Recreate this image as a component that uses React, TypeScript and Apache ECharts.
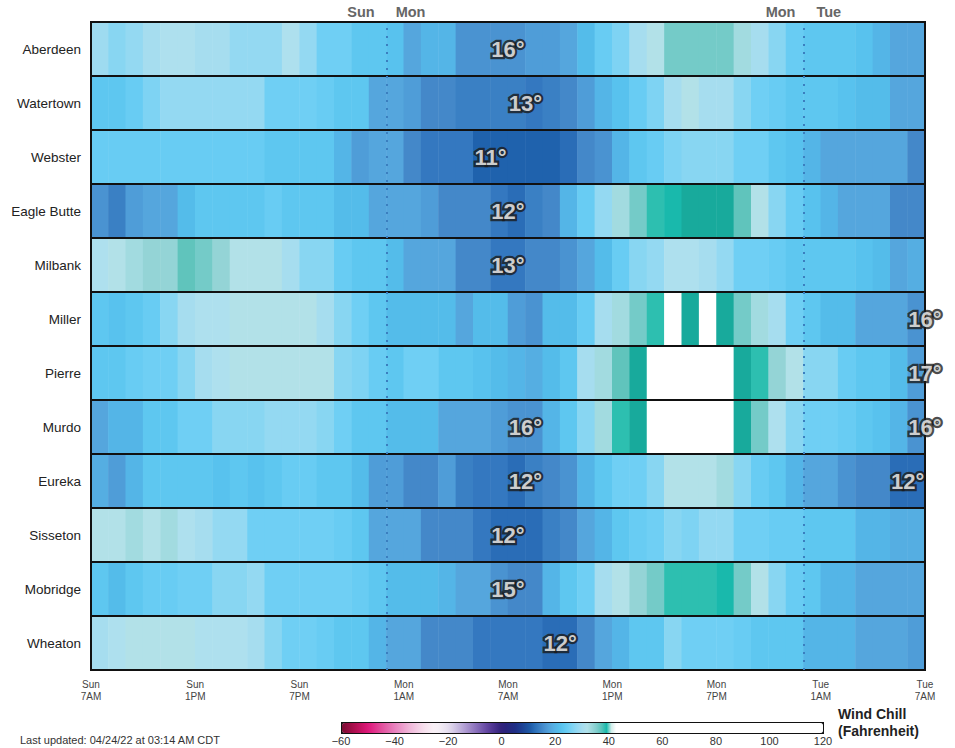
import React, { useEffect, useRef } from 'react';
import * as echarts from 'echarts';

const stations = ['Aberdeen', 'Watertown', 'Webster', 'Eagle Butte', 'Milbank', 'Miller', 'Pierre', 'Murdo', 'Eureka', 'Sisseton', 'Mobridge', 'Wheaton'];

const hourCategories = [
  'Sun 7AM', 'Sun 8AM', 'Sun 9AM', 'Sun 10AM', 'Sun 11AM', 'Sun 12PM', 'Sun 1PM', 'Sun 2PM', 'Sun 3PM', 'Sun 4PM', 'Sun 5PM', 'Sun 6PM',
  'Sun 7PM', 'Sun 8PM', 'Sun 9PM', 'Sun 10PM', 'Sun 11PM', 'Mon 12AM', 'Mon 1AM', 'Mon 2AM', 'Mon 3AM', 'Mon 4AM', 'Mon 5AM', 'Mon 6AM',
  'Mon 7AM', 'Mon 8AM', 'Mon 9AM', 'Mon 10AM', 'Mon 11AM', 'Mon 12PM', 'Mon 1PM', 'Mon 2PM', 'Mon 3PM', 'Mon 4PM', 'Mon 5PM', 'Mon 6PM',
  'Mon 7PM', 'Mon 8PM', 'Mon 9PM', 'Mon 10PM', 'Mon 11PM', 'Tue 12AM', 'Tue 1AM', 'Tue 2AM', 'Tue 3AM', 'Tue 4AM', 'Tue 5AM', 'Tue 6AM',
];

const tickLabels = ['Sun\n7AM', 'Sun\n1PM', 'Sun\n7PM', 'Mon\n1AM', 'Mon\n7AM', 'Mon\n1PM', 'Mon\n7PM', 'Tue\n1AM', 'Tue\n7AM'];

// Wind chill (°F), hourly from Sun 7AM
const aberdeen = [29, 27, 28, 30, 31, 31, 30, 30, 28, 28, 28, 31, 28, 25, 25, 23, 23, 22, 18, 20, 20, 16, 16, 16, 16, 17, 17, 18, 21, 24, 26, 30, 32, 36, 36, 36, 36, 33, 30, 27, 24, 23, 23, 23, 22, 20, 18, 18];
const watertown = [23, 23, 24, 26, 28, 28, 28, 28, 28, 28, 25, 25, 25, 24, 23, 23, 18, 18, 17, 15, 15, 14, 14, 14, 14, 13, 14, 15, 17, 20, 22, 24, 26, 30, 32, 30, 30, 27, 25, 24, 23, 23, 23, 22, 21, 21, 18, 18];
const webster = [24, 24, 24, 24, 24, 24, 24, 24, 24, 24, 23, 23, 23, 23, 20, 17, 18, 18, 15, 13, 13, 13, 11, 11, 11, 11, 11, 12, 15, 16, 20, 23, 24, 26, 27, 27, 27, 25, 25, 23, 22, 20, 18, 18, 18, 18, 18, 15];
const eagleButte = [16, 14, 17, 18, 18, 21, 23, 23, 23, 23, 24, 23, 23, 23, 21, 21, 18, 18, 18, 17, 15, 15, 15, 13, 12, 14, 15, 20, 24, 28, 33, 36, 38, 39, 40, 40, 40, 37, 32, 27, 24, 22, 20, 18, 18, 18, 15, 15];
const milbank = [31, 32, 33, 34, 34, 37, 36, 34, 32, 32, 32, 30, 27, 27, 24, 23, 23, 21, 18, 18, 18, 15, 15, 13, 13, 15, 15, 16, 18, 21, 24, 27, 28, 31, 31, 30, 28, 25, 25, 24, 23, 23, 23, 23, 22, 21, 18, 19];
const miller = [23, 22, 23, 24, 27, 30, 31, 31, 32, 32, 32, 32, 32, 30, 27, 25, 23, 21, 21, 21, 21, 18, 21, 21, 17, 16, 21, 21, 24, 30, 33, 36, 38, 43, 40, 43, 40, 36, 33, 30, 25, 23, 21, 21, 18, 18, 18, 16];
const pierre = [23, 23, 24, 25, 25, 27, 30, 31, 32, 32, 32, 32, 32, 32, 27, 26, 24, 23, 25, 25, 23, 23, 22, 21, 20, 19, 21, 23, 30, 33, 37, 40, 45, 46, 46, 45, 44, 40, 38, 34, 32, 27, 27, 24, 23, 23, 21, 17];
const murdo = [18, 20, 20, 23, 23, 25, 25, 27, 27, 27, 28, 28, 28, 27, 25, 23, 23, 21, 21, 21, 18, 18, 18, 17, 16, 16, 20, 23, 27, 33, 38, 40, 45, 46, 46, 45, 44, 40, 36, 31, 27, 25, 25, 24, 23, 22, 20, 16];
const eureka = [19, 17, 20, 23, 23, 23, 23, 22, 23, 22, 23, 24, 24, 23, 23, 21, 17, 17, 15, 15, 17, 14, 13, 13, 12, 14, 15, 16, 20, 23, 25, 25, 27, 32, 32, 32, 33, 27, 24, 23, 20, 18, 18, 16, 15, 15, 12, 12];
const sisseton = [32, 32, 33, 32, 33, 31, 30, 28, 28, 25, 25, 25, 25, 25, 24, 23, 18, 18, 18, 15, 15, 15, 13, 12, 12, 12, 14, 15, 18, 20, 23, 24, 25, 27, 26, 28, 28, 25, 25, 24, 24, 23, 23, 23, 20, 20, 19, 19];
const mobridge = [23, 21, 23, 24, 24, 25, 25, 27, 27, 28, 25, 25, 25, 25, 25, 24, 23, 21, 21, 21, 20, 18, 18, 16, 15, 15, 20, 23, 25, 30, 32, 34, 36, 38, 38, 38, 39, 36, 32, 27, 24, 23, 20, 20, 18, 18, 18, 18];
const wheaton = [30, 31, 32, 32, 32, 32, 31, 31, 31, 30, 27, 25, 25, 24, 23, 23, 20, 18, 18, 15, 15, 15, 13, 13, 13, 13, 12, 12, 15, 18, 20, 23, 23, 27, 25, 25, 25, 24, 23, 23, 23, 20, 20, 20, 18, 18, 18, 17];

const rows = [aberdeen, watertown, webster, eagleButte, milbank, miller, pierre, murdo, eureka, sisseton, mobridge, wheaton];

// Minimum wind chill annotations: station, hour position (from Sun 7AM), text
const minLabelStations = ['Aberdeen', 'Watertown', 'Webster', 'Eagle Butte', 'Milbank', 'Miller', 'Pierre', 'Murdo', 'Murdo', 'Eureka', 'Eureka', 'Sisseton', 'Mobridge', 'Wheaton'];
const minLabelHours = [24, 25, 23, 24, 24, 48, 48, 25, 48, 25, 47, 24, 24, 27];
const minLabelTexts = ['16°', '13°', '11°', '12°', '13°', '16°', '17°', '16°', '16°', '12°', '12°', '12°', '15°', '12°'];

const dayBoundaryHours = [17, 41];
const dayBoundaryNames = ['Sun|Mon', 'Mon|Tue'];

// colour scale stops (value, colour)
const colorStops: [number, string][] = [
  [-60, '#7a0c32'], [-55, '#b10f50'], [-50, '#e0187c'], [-45, '#e2529e'], [-40, '#e884bf'], [-35, '#f0b4d8'],
  [-30, '#f6dcec'], [-25, '#faf4f8'], [-20, '#e4dcee'], [-15, '#b9a8d8'], [-10, '#8c72bd'], [-5, '#5c3f9c'],
  [0, '#2e1f78'], [5, '#1e2f86'], [10, '#1c55a3'], [11, '#1f62ad'], [12, '#2a6db7'], [13, '#3478c0'],
  [14, '#3a80c4'], [15, '#4488c9'], [16, '#4a93d1'], [17, '#4f9dd8'], [18, '#55a6dd'], [19, '#55aee2'],
  [20, '#54b5e7'], [21, '#54bcea'], [22, '#58c2ee'], [23, '#5ec7f0'], [24, '#68ccf3'], [25, '#6fcff4'],
  [26, '#7ed3f3'], [27, '#88d6f2'], [28, '#94d9f2'], [29, '#9edbf0'], [30, '#a6ddef'], [31, '#aee0ee'],
  [32, '#b2e1e8'], [33, '#a2dbe0'], [34, '#94d4d6'], [35, '#84cfcf'], [36, '#74cbc8'], [37, '#60c4bc'],
  [38, '#2dbfb0'], [39, '#19b9ac'], [40, '#18aa9c'], [41, '#ffffff'], [120, '#ffffff'],
];

function hexToRgb(h: string) {
  const n = parseInt(h.slice(1), 16);
  return [(n >> 16) & 255, (n >> 8) & 255, n & 255];
}
function buildPalette(): string[] {
  const out: string[] = [];
  for (let v = -60; v <= 120; v++) {
    let i = 0;
    while (i < colorStops.length - 2 && colorStops[i + 1][0] < v) i++;
    const [v0, c0] = colorStops[i];
    const [v1, c1] = colorStops[i + 1];
    const t = v1 === v0 ? 0 : Math.min(1, Math.max(0, (v - v0) / (v1 - v0)));
    const a = hexToRgb(c0);
    const b = hexToRgb(c1);
    const c = a.map((x, k) => Math.round(x + (b[k] - x) * t));
    out.push(`rgb(${c[0]},${c[1]},${c[2]})`);
  }
  return out;
}

export default function App() {
  const ref = useRef<HTMLDivElement>(null);
  useEffect(() => {
    if (!ref.current) return;
    const chart = echarts.init(ref.current, undefined, { renderer: 'svg' });
    const heatData: number[][] = [];
    rows.forEach((r, ri) => r.forEach((v, ci) => heatData.push([ci, ri, v])));
    const labelData = minLabelStations.map((s, i) => [minLabelHours[i], stations.indexOf(s), minLabelTexts[i]]);
    const labelFont = { fontSize: 22, fontWeight: 'bold' as const, fontFamily: 'Liberation Sans' };

    chart.setOption({
      animation: false,
      backgroundColor: '#ffffff',
      textStyle: { fontFamily: 'Liberation Sans' },
      grid: [
        { left: 91, right: 30, top: 22, bottom: 78, show: true, borderColor: '#111', borderWidth: 2, backgroundColor: 'transparent', z: 4 },
        { left: 341, width: 482, top: 733, height: 1 },
      ],
      xAxis: [
        { type: 'category', gridIndex: 0, data: hourCategories, show: false },
        {
          type: 'value', gridIndex: 0, min: 0, max: 48, interval: 6, position: 'bottom',
          axisLine: { show: false }, axisTick: { show: false }, splitLine: { show: false },
          axisLabel: {
            show: true, margin: 8, fontSize: 10, lineHeight: 12, color: '#444',
            showMinLabel: true, showMaxLabel: true,
            formatter: (v: number) => tickLabels[Math.round(v / 6)] ?? '',
          },
        },
        {
          type: 'value', gridIndex: 1, min: -60, max: 120, interval: 20,
          axisLine: { show: false }, axisTick: { show: false }, splitLine: { show: false },
          axisLabel: {
            margin: 1, fontSize: 11, color: '#333', showMinLabel: true, showMaxLabel: true,
            formatter: (v: number) => (v < 0 ? '\u2212' + Math.abs(v) : String(v)),
          },
        },
      ],
      yAxis: [
        {
          type: 'category', gridIndex: 0, data: stations, inverse: true, z: 4,
          axisLine: { show: false }, axisTick: { show: false },
          axisLabel: { fontSize: 13.5, color: '#222', margin: 10 },
          splitLine: { show: true, lineStyle: { color: '#111', width: 2 } },
        },
        { type: 'value', gridIndex: 1, show: false, min: 0, max: 1 },
        { type: 'value', gridIndex: 0, show: false, min: 0, max: 1 },
      ],
      visualMap: {
        type: 'continuous', seriesIndex: 0, min: -60, max: 120, orient: 'horizontal',
        left: 341, top: 722, itemWidth: 10, itemHeight: 481, calculable: false, hoverLink: false,
        padding: 0, borderColor: '#111', borderWidth: 2, showLabel: false,
        inRange: { color: buildPalette() },
      },
      series: [
        {
          type: 'heatmap', xAxisIndex: 0, yAxisIndex: 0, data: heatData, z: 2,
          itemStyle: { borderWidth: 0 }, emphasis: { disabled: true }, silent: true,
        },
        {
          type: 'line', xAxisIndex: 1, yAxisIndex: 2, data: [], z: 3, silent: true,
          markLine: {
            silent: true, symbol: ['none', 'none'],
            lineStyle: { type: [2, 6], color: '#3b7fbf', width: 2 },
            label: {
              show: true, position: 'end', distance: 3,
              formatter: (p: any) => {
                const [a, b] = String(p.name).split('|');
                return `{a|${a}}{g|}{b|${b}}`;
              },
              rich: {
                a: { fontSize: 14.5, fontWeight: 'bold', color: '#666' },
                g: { width: 21 },
                b: { fontSize: 14.5, fontWeight: 'bold', color: '#666' },
              },
            },
            data: dayBoundaryHours.map((h, i) => ({ xAxis: h, name: dayBoundaryNames[i] })),
          },
        },
        {
          type: 'scatter', xAxisIndex: 1, yAxisIndex: 0, data: labelData, symbolSize: 0, z: 10, silent: true,
          label: {
            show: true, position: 'inside', formatter: (p: any) => p.value[2],
            ...labelFont, color: '#1a1a1a', textBorderColor: '#1a1a1a', textBorderWidth: 4.5,
          },
        },
        {
          type: 'scatter', xAxisIndex: 1, yAxisIndex: 0, data: labelData, symbolSize: 0, z: 11, silent: true,
          label: {
            show: true, position: 'inside', formatter: (p: any) => p.value[2],
            ...labelFont, color: '#ffffff', textBorderWidth: 0,
          },
        },
      ],
      graphic: [
        { type: 'text', left: 20, top: 734, style: { text: 'Last updated: 04/24/22 at 03:14 AM CDT', fontSize: 11, fill: '#333', fontFamily: 'Liberation Sans' } },
        { type: 'text', left: 838, top: 707, style: { text: 'Wind Chill', fontSize: 14, fontWeight: 'bold', fill: '#222', fontFamily: 'Liberation Sans' } },
        { type: 'text', left: 838, top: 724, style: { text: '(Fahrenheit)', fontSize: 14, fontWeight: 'bold', fill: '#222', fontFamily: 'Liberation Sans' } },
      ],
    });
    return () => chart.dispose();
  }, []);
  return <div ref={ref} style={{ position: 'fixed', left: 0, top: 0, width: 955, height: 748, background: '#fff' }} />;
}
